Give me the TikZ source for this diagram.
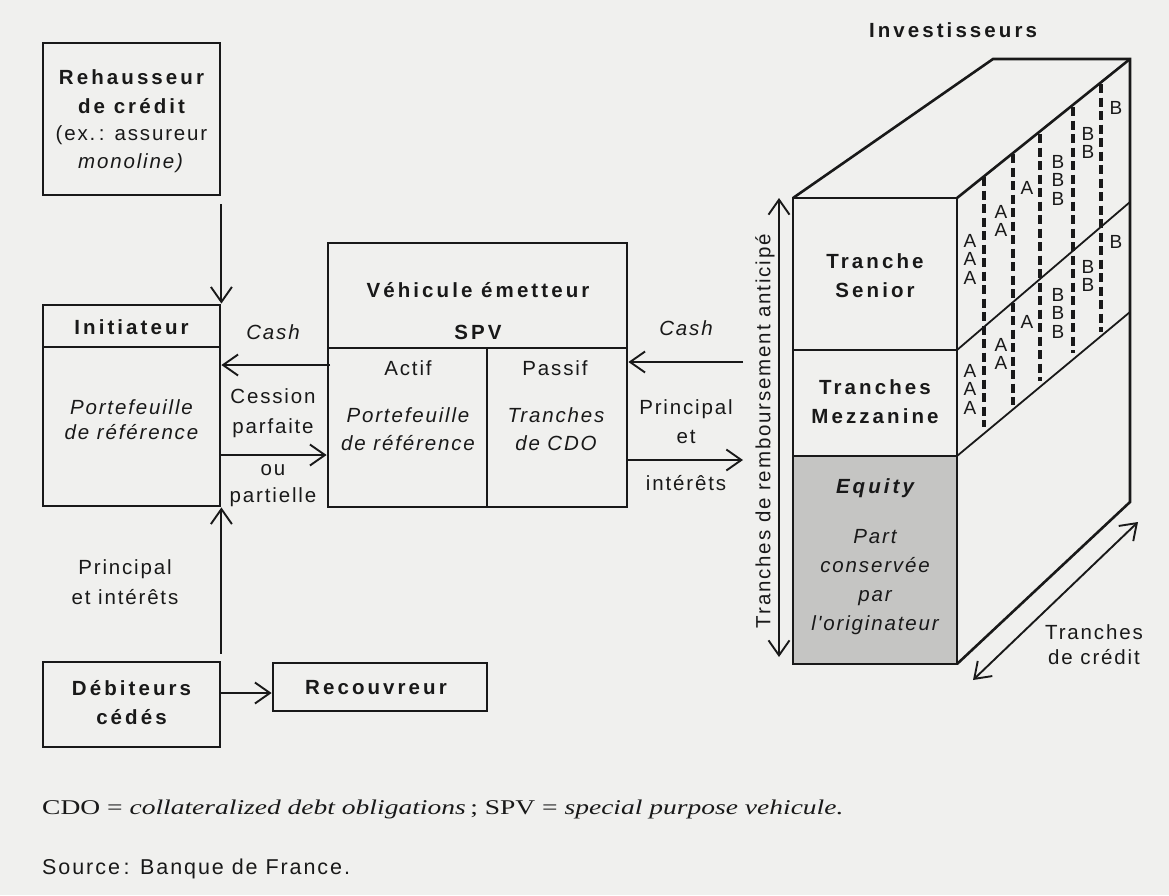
\documentclass[tikz,border=0pt]{standalone}
\usepackage{fontspec}
\usetikzlibrary{arrows.meta,calc}
\setmainfont{Liberation Sans}
\newfontfamily\rsans[LetterSpace=9]{Liberation Sans}
\newfontfamily\bsans[LetterSpace=15]{Liberation Sans}
\newfontfamily\plainsans{Liberation Sans}
\newfontfamily\srcsans[LetterSpace=9]{Liberation Sans}
\newfontfamily\srf{Liberation Serif}
\definecolor{bg}{RGB}{240,240,238}
\definecolor{eqfill}{RGB}{197,197,195}
\definecolor{ink}{RGB}{25,25,25}
\tikzset{
  box/.style={draw=ink, line width=2.8pt, rectangle, inner sep=0pt},
  lab/.style={font=\rsans\fontsize{20.5}{28}\selectfont, text=ink, align=center, inner sep=0pt},
  ilab/.style={font=\rsans\itshape\fontsize{20.5}{28}\selectfont, text=ink, align=center, inner sep=0pt},
  blab/.style={font=\bsans\bfseries\fontsize{20.5}{29}\selectfont, text=ink, align=center, inner sep=0pt},
  bilab/.style={font=\bsans\bfseries\itshape\fontsize{20.5}{29}\selectfont, text=ink, align=center, inner sep=0pt},
  letter/.style={font=\plainsans\fontsize{19}{18.5}\selectfont, text=ink, align=center, inner sep=0pt},
  arr/.style={draw=ink, line width=1.9pt, -{Straight Barb[length=15pt,width=21pt]}},
  darr/.style={draw=ink, line width=1.9pt, {Straight Barb[length=15pt,width=21pt]}-{Straight Barb[length=15pt,width=21pt]}},
  edge3d/.style={draw=ink, line width=2.6pt, line join=miter},
  thinl/.style={draw=ink, line width=1.8pt},
  dashl/.style={draw=ink, line width=3.4pt, dash pattern=on 9pt off 4.5pt},
}
\begin{document}
\begin{tikzpicture}[x=1pt,y=-1pt]
\useasboundingbox (0,0) rectangle (1169,895);
\fill[bg] (0,0) rectangle (1169,895);

% ---------- left column ----------
\node[box, minimum width=177pt, minimum height=152pt] (reh) at (131.5,119) {};
\node[blab] (rehT) at (131.5,92) {Rehausseur\\de crédit};
\node[lab] (rehS) at (131.5,149) {(ex.\,: assureur\\\textit{monoline)}};

\node[box, minimum width=177pt, minimum height=201pt] (init) at (131.5,405.5) {};
\draw[draw=ink, line width=2.6pt] (43,347) -- (220,347);
\node[blab] (initT) at (131.5,327) {Initiateur};
\node[ilab, font=\rsans\itshape\fontsize{20.5}{25}\selectfont] (initP) at (131.5,420) {Portefeuille\\de référence};

\node[box, minimum width=177pt, minimum height=85pt] (deb) at (131.5,704.5) {};
\node[blab] (debT) at (131.5,702.5) {Débiteurs\\cédés};

\node[box, minimum width=214pt, minimum height=48pt] (rec) at (380,687) {};
\node[blab] (recT) at (376,688) {Recouvreur};

% ---------- SPV ----------
\node[box, minimum width=299pt, minimum height=264pt] (spv) at (477.5,375) {};
\draw[draw=ink, line width=2.6pt] (328,348) -- (627,348);
\draw[draw=ink, line width=2.6pt] (487,348) -- (487,507);
\node[blab] (spvT) at (478,290) {Véhicule émetteur};
\node[blab] (spvS) at (478,332) {SPV};
\node[lab] (actif) at (408,368) {Actif};
\node[lab] (passif) at (555,368) {Passif};
\node[ilab] (actifP) at (408,429) {Portefeuille\\de référence};
\node[ilab] (passifP) at (556,429) {Tranches\\de CDO};

% ---------- left arrows ----------
\draw[arr] ([yshift=-8pt]reh.south east) -- (init.north east);
\coordinate (cashL) at (330,365);
\draw[arr] (cashL) -- (cashL -| init.east);
\node[ilab] (cashLT) at (273,332) {Cash};
\coordinate (cessL) at (220,455);
\draw[arr] (cessL) -- (cessL -| spv.west);
\node[lab, font=\rsans\fontsize{20.5}{30}\selectfont] (cessT) at (273,413) {Cession\\parfaite};
\node[lab, font=\rsans\fontsize{20.5}{27}\selectfont] (cessT2) at (273,486) {ou\\partielle};
\draw[arr] ([yshift=7pt]deb.north east) -- (init.south east);
\node[lab, font=\rsans\fontsize{20.5}{30}\selectfont] (piL) at (125,582) {Principal\\et intérêts};
\coordinate (recA) at (220,693);
\draw[arr] (recA) -- (recA -| rec.west);

% ---------- right arrows ----------
\coordinate (cashR) at (743,362);
\draw[arr] (cashR) -- (cashR -| spv.east);
\node[ilab] (cashRT) at (686,328) {Cash};
\coordinate (piR) at (743,460);
\draw[arr] (piR -| spv.east) -- (piR);
\node[lab, font=\rsans\fontsize{20.5}{29}\selectfont] (piRT) at (686,422) {Principal\\et};
\node[lab] (piRT2) at (686,483) {intérêts};

% ---------- 3D block ----------
\node[blab] (inv) at (953,30) {Investisseurs};
\fill[eqfill] (793,456) rectangle (957,664);
\draw[edge3d] (793,198) -- (993,59) -- (1130,59) -- (1130,502) -- (957,664);
\draw[edge3d] (957,198) -- (1130,59);
\draw[edge3d] (793,198) rectangle (957,664);
\draw[edge3d] (793,350) -- (957,350);
\draw[edge3d] (793,456) -- (957,456);
\draw[thinl] (957,350) -- (1130,202);
\draw[thinl] (957,456) -- (1130,312);
\draw[dashl] (984,177) -- (984,427);
\draw[dashl] (1013,154) -- (1013,405);
\draw[dashl] (1040,134) -- (1040,381);
\draw[dashl] (1073,107) -- (1073,353);
\draw[dashl] (1101,84) -- (1101,332);
\node[letter] (s1) at (970,259) {A\\A\\A};
\node[letter] (s2) at (1001,221) {A\\A};
\node[letter] (s3) at (1027,188) {A};
\node[letter] (s4) at (1058,180) {B\\B\\B};
\node[letter] (s5) at (1088,143) {B\\B};
\node[letter] (s6) at (1116,108) {B};
\node[letter] (m1) at (970,389) {A\\A\\A};
\node[letter] (m2) at (1001,354) {A\\A};
\node[letter] (m3) at (1027,322) {A};
\node[letter] (m4) at (1058,313) {B\\B\\B};
\node[letter] (m5) at (1088,276) {B\\B};
\node[letter] (m6) at (1116,242) {B};
\node[blab] (sen) at (875,276) {Tranche\\Senior};
\node[blab] (mez) at (875,402) {Tranches\\Mezzanine};
\node[bilab] (eq) at (875,488) {Equity};
\node[ilab, font=\rsans\itshape\fontsize{20.5}{29}\selectfont] (eqT) at (875,582) {Part\\conservée\\par\\l'originateur};

\coordinate (vt) at (779,198);
\coordinate (vb) at (779,657);
\draw[darr] (vb) -- (vt);
\node[lab, rotate=90] (vlab) at (765,431) {Tranches de remboursement anticipé};

\coordinate (dl) at (973,680);
\coordinate (du) at (1138,522);
\draw[darr] (dl) -- (du);
\node[lab, font=\rsans\fontsize{20.5}{25}\selectfont] (dlab) at (1094,645) {Tranches\\de crédit};

% ---------- footer ----------
\node[anchor=base west, inner sep=0pt, text=ink, font=\srf\fontsize{21}{24}\selectfont] (foot1) at (42,814)
  {\scalebox{1.31}[1]{CDO = \textit{collateralized debt obligations}\,; SPV = \textit{special purpose vehicule.}}};
\node[anchor=base west, inner sep=0pt, text=ink, font=\srcsans\fontsize{21.5}{24}\selectfont] (foot2) at (42,874)
  {Source\,: Banque de France.};
\end{tikzpicture}
\end{document}
